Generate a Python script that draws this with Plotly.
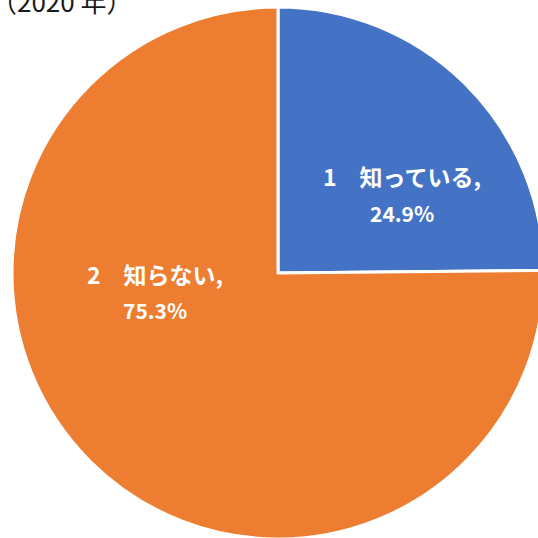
import plotly.graph_objects as go

categories = ["知っている", "知らない"]
numbers = ["1", "2"]
values = [24.9, 75.3]
colors = ["#4472C4", "#ED7D31"]
title_text = "（2020 年）"

W = H = 560
cx, cy, R = 278, 273, 266


def px(x):
    return x / W


def py(y):
    return (H - y) / H


fig = go.Figure()
fig.add_trace(go.Pie(
    labels=categories,
    values=values,
    sort=False,
    direction="clockwise",
    rotation=0,
    marker=dict(colors=colors, line=dict(color="white", width=3)),
    textinfo="none",
    hoverinfo="label+percent",
    showlegend=False,
    domain=dict(x=[px(cx - R), px(cx + R)], y=[py(cy + R), py(cy - R)]),
))

label_pos = [(402, 176, 213), (155, 274, 310)]
annotations = []
for (num, cat, val), (lx, ly1, ly2) in zip(zip(numbers, categories, values), label_pos):
    annotations.append(dict(
        x=px(lx), y=py(ly1), xref="paper", yref="paper", showarrow=False,
        text=f"<b>{num}　{cat},</b>", xanchor="center", yanchor="middle",
        font=dict(family="Noto Sans CJK JP", size=23, color="white"),
    ))
    annotations.append(dict(
        x=px(lx), y=py(ly2), xref="paper", yref="paper", showarrow=False,
        text=f"<b>{val}%</b>", xanchor="center", yanchor="middle",
        font=dict(family="Noto Sans CJK JP", size=21, color="white"),
    ))

annotations.append(dict(
    x=px(-11), y=py(1), xref="paper", yref="paper", showarrow=False,
    text=title_text, xanchor="left", yanchor="middle",
    font=dict(family="Noto Sans CJK JP", size=26, color="#1a1a1a"),
))

fig.update_layout(
    width=W, height=H,
    margin=dict(l=0, r=0, t=0, b=0),
    paper_bgcolor="white", plot_bgcolor="white",
    annotations=annotations,
)

fig.write_html("out.html")
